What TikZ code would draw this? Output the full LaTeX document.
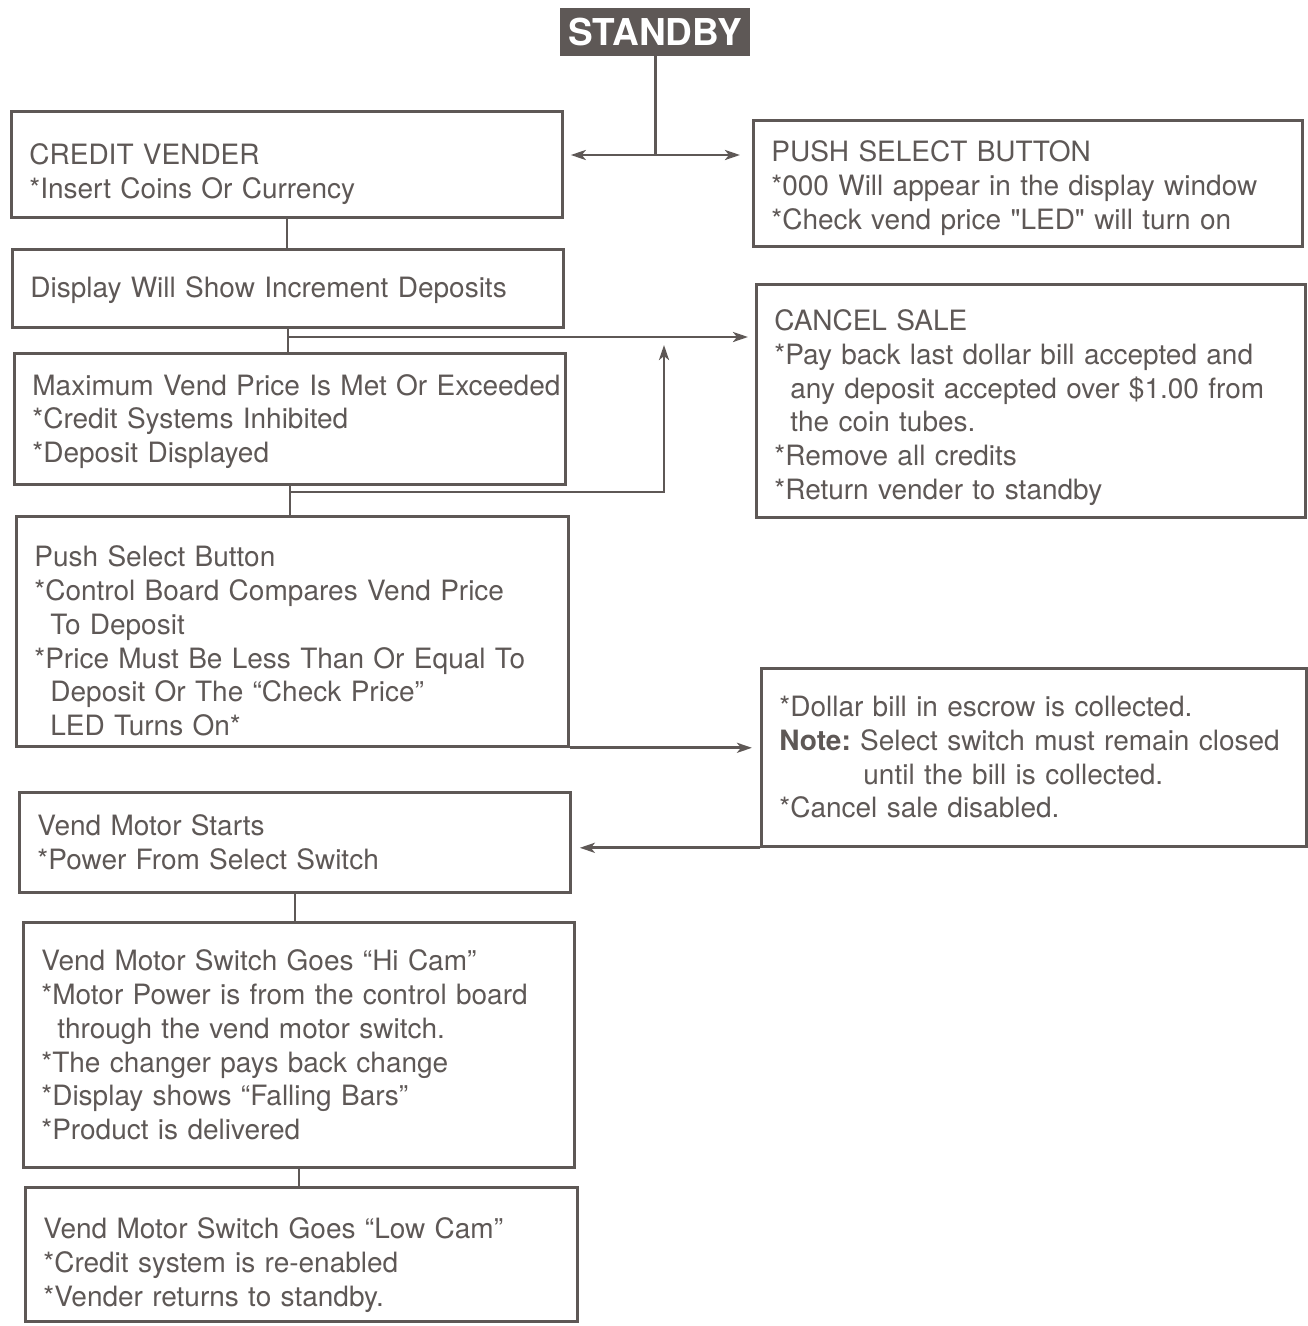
\documentclass[tikz,border=0pt]{standalone}
\usepackage{fontspec}
\setmainfont{TeX Gyre Heros}
\usetikzlibrary{arrows.meta}
\definecolor{inkc}{HTML}{5E5856}
\tikzset{
  ar/.style={-{Stealth[length=15pt,width=10pt,inset=4pt]},line width=2.8pt,inkc},
  ln/.style={line width=2.8pt,inkc},
  box/.style={draw=inkc,line width=2.8pt,anchor=north west,align=left,inner xsep=18pt,inner ysep=0pt,text=inkc,font=\fontsize{28}{33.7}\selectfont},
  pad/.style={execute at begin node={\rule{0pt}{#1}}},
  hd/.style={fill=inkc,text=white,anchor=north west,minimum width=190pt,minimum height=48pt,inner sep=0pt,font=\bfseries\fontsize{37}{40}\selectfont}
}
\newcommand{\subind}{\hspace*{16pt}}
\begin{document}
\frenchspacing
\begin{tikzpicture}[x=1pt,y=-1pt]
\useasboundingbox (0,0) rectangle (1308,1326);
% boxes
\node[hd] (standby) at (560,8) {STANDBY};
\node[box,pad=40pt,text width=515pt,minimum height=106pt] (credit) at (10,110)
  {CREDIT VENDER\\{*}Insert Coins Or Currency};
\node[box,pad=30pt,text width=513pt,minimum height=126pt] (pushbtn) at (752,119)
  {PUSH SELECT BUTTON\\{*}000 Will appear in the display window\\{*}Check vend price \textquotedbl LED\textquotedbl{} will turn on};
\node[box,pad=24pt,text width=515pt,minimum height=78pt] (display) at (11,248)
  {Display Will Show Increment Deposits};
\node[box,pad=26pt,text width=515pt,minimum height=131pt] (maxp) at (13,352)
  {\mbox{Maximum Vend Price Is Met Or Exceeded}\\{*}Credit Systems Inhibited\\{*}Deposit Displayed};
\node[box,pad=34pt,text width=513pt,minimum height=233pt] (cancel) at (755,283)
  {CANCEL SALE\\{*}Pay back last dollar bill accepted and\\\subind any deposit accepted over \$1.00 from\\\subind the coin tubes.\\{*}Remove all credits\\{*}Return vender to standby};
\node[box,pad=40pt,text width=516pt,minimum height=230pt] (pushsel) at (15,515)
  {Push Select Button\\{*}Control Board Compares Vend Price\\\subind To Deposit\\{*}Price Must Be Less Than Or Equal To\\\subind Deposit Or The ``Check Price''\\\subind LED Turns On*};
\node[box,text width=509pt,minimum height=178pt] (dollar) at (760,667)
  {{*}Dollar bill in escrow is collected.\\\textbf{Note:} Select switch must remain closed\\\hspace*{84pt}until the bill is collected.\\{*}Cancel sale disabled.};
\node[box,text width=515pt,minimum height=100pt] (vend) at (18,791)
  {Vend Motor Starts\\{*}Power From Select Switch};
\node[box,text width=515pt,minimum height=245pt] (hicam) at (22,921)
  {Vend Motor Switch Goes ``Hi Cam''\\{*}Motor Power is from the control board\\\subind through the vend motor switch.\\{*}The changer pays back change\\{*}Display shows ``Falling Bars''\\{*}Product is delivered};
\node[box,pad=42pt,text width=516pt,minimum height=134pt] (lowcam) at (24,1186)
  {Vend Motor Switch Goes ``Low Cam''\\{*}Credit system is re-enabled\\{*}Vender returns to standby.};
% connectors
\coordinate (jt) at (standby.south |- 0,155);
\draw[ln] (standby.south) -- (jt);
\draw[ar] (jt) -- ([xshift=7pt]credit.east |- jt);
\draw[ar] (jt) -- ([xshift=-12pt]pushbtn.west |- jt);
\draw[ln] (credit.south) -- (credit.south |- display.north);
\draw[ln] (display.south) -- (display.south |- maxp.north);
\coordinate (jc) at (display.south |- 0,337);
\draw[ar] (jc) -- ([xshift=-7pt]cancel.west |- jc);
\draw[ln] (maxp.south) -- (maxp.south |- pushsel.north);
\coordinate (jr) at (maxp.south |- 0,492);
\coordinate (ju) at (664,337);
\draw[ar] (jr) -| ([yshift=-8pt]ju);
\draw[ar] (pushsel.south east) -- ([xshift=-8pt]dollar.west |- pushsel.south east);
\draw[ar] (dollar.south west) -- ([xshift=8pt]vend.east |- dollar.south west);
\draw[ln] (vend.south) -- (vend.south |- hicam.north);
\draw[ln] (hicam.south) -- (hicam.south |- lowcam.north);
\end{tikzpicture}
\end{document}
